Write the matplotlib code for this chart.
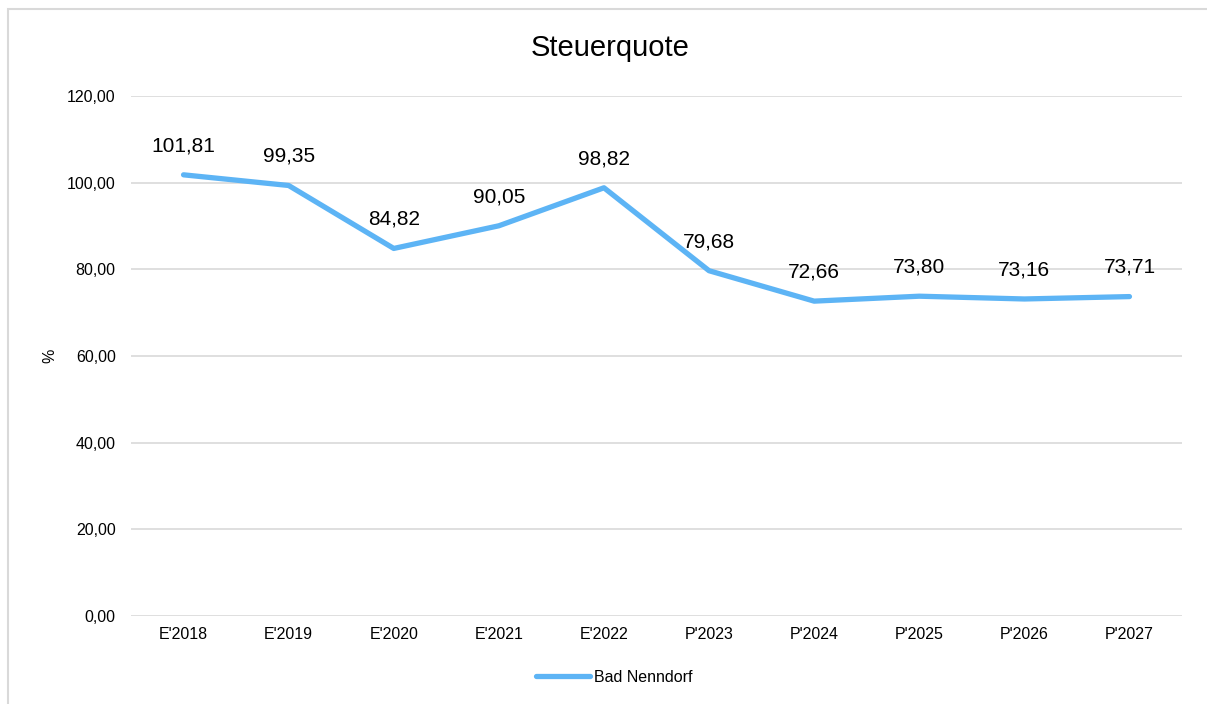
import matplotlib.pyplot as plt
from matplotlib.patches import Rectangle

plt.rcParams['font.family'] = ['Liberation Sans', 'DejaVu Sans']

# Werte aus dem Diagramm
categories = ["E'2018", "E'2019", "E'2020", "E'2021", "E'2022",
              "P'2023", "P'2024", "P'2025", "P'2026", "P'2027"]
values = [101.81, 99.35, 84.82, 90.05, 98.82, 79.68, 72.66, 73.80, 73.16, 73.71]
series_name = 'Bad Nenndorf'
yticks = [0, 20, 40, 60, 80, 100, 120]

fig = plt.figure(figsize=(12.07, 7.04), dpi=100)
ax = fig.add_axes([131 / 1207, 1 - 616 / 704, 1051 / 1207, 520 / 704])

x = list(range(len(categories)))
ax.plot(x, values, color='#5DB4F5', linewidth=3.8, solid_capstyle='round',
        solid_joinstyle='round', label=series_name)

for xi, v in zip(x, values):
    ax.annotate(f'{v:.2f}'.replace('.', ','), (xi, v), xytext=(0, 21),
                textcoords='offset points', ha='center', va='center',
                fontsize=15, color='#000000')

ax.set_xlim(-0.5, len(categories) - 0.5)
ax.set_ylim(0, 120)
ax.set_yticks(yticks)
ax.set_yticklabels([f'{t:.2f}'.replace('.', ',') for t in yticks])
ax.set_xticks(x)
ax.set_xticklabels(categories)
ax.tick_params(axis='both', length=0, labelsize=11.5, colors='#000000')
ax.tick_params(axis='y', pad=11)
ax.tick_params(axis='x', pad=8)
ax.grid(axis='y', color='#D9D9D9', linewidth=1.2)
ax.set_axisbelow(True)
for s in ax.spines.values():
    s.set_visible(False)

fig.text(50 / 1207, 1 - 356 / 704, '%', rotation=90, ha='center', va='center',
         fontsize=11.5)

fig.text(610 / 1207, 1 - 48 / 704, 'Steuerquote', ha='center', va='center', fontsize=21)

leg = fig.legend(loc='center', bbox_to_anchor=(614 / 1207, 1 - 677 / 704),
                 frameon=False, fontsize=11.5, handlelength=3.4, handletextpad=0.2)

# Rahmen um das Diagramm
fig.patches.append(Rectangle((8 / 1207, -0.05), 1.2, 1 - 9 / 704 + 0.05,
                             transform=fig.transFigure, fill=False,
                             edgecolor='#D9D9D9', linewidth=1.5))

fig.savefig('out.png', dpi=100)
